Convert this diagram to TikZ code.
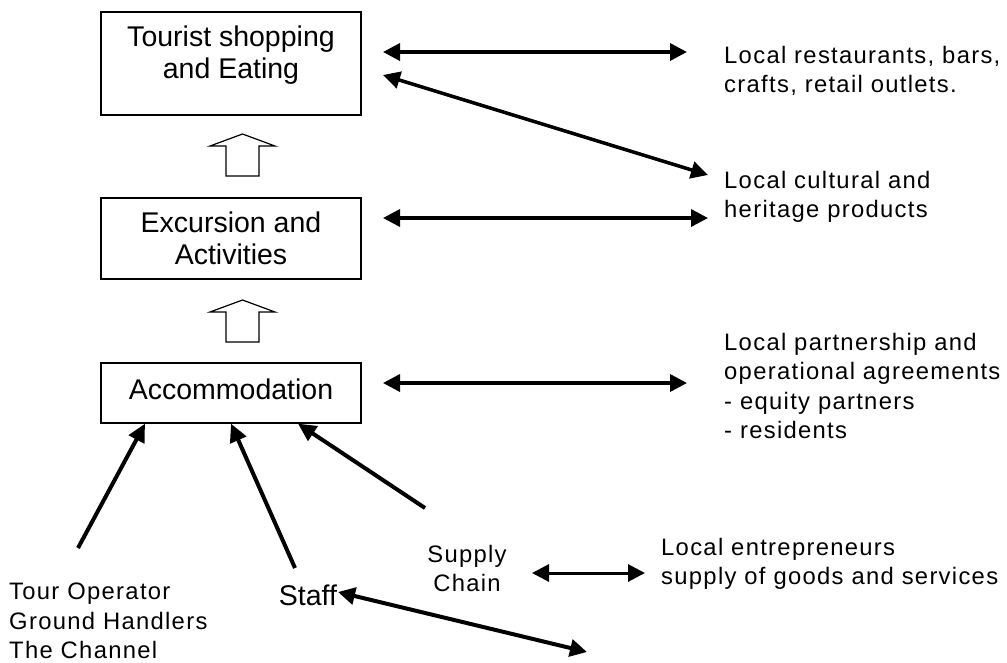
\documentclass[tikz,border=0pt]{standalone}
\usepackage{fontspec}
\setmainfont{Liberation Sans}
\newfontfamily\sidefont[LetterSpace=5.5]{Liberation Sans}
\usetikzlibrary{arrows.meta}
\begin{document}
\begin{tikzpicture}[x=1pt,y=-1pt,
  box/.style={draw, line width=1.3pt, inner sep=0pt, minimum width=260pt},
  boxtext/.style={font=\fontsize{28.5}{32}\selectfont, align=center, anchor=base, inner sep=0pt},
  side/.style={font=\sidefont\fontsize{23.8}{29.5}\selectfont, align=left, anchor=north west, inner sep=0pt},
  link/.style={line width=3.5pt, {Triangle[length=17pt,width=17pt]}-{Triangle[length=17pt,width=17pt]}},
  feed/.style={line width=4pt, -{Triangle[length=18pt,width=17pt]}},
  hollow/.style={draw, line width=1.2pt, fill=white, line join=miter}
]
\useasboundingbox (0,0) rectangle (1007,662);

% boxes
\node[box, minimum height=103pt] (b1) at (231,63.5) {};
\node[box, minimum height=81pt] (b2) at (231,238.5) {};
\node[box, minimum height=60pt] (b3) at (231,393) {};
\node[boxtext] (b1t) at (231,78) {Tourist shopping\\and Eating};
\node[boxtext] (b2t) at (231,264) {Excursion and\\Activities};
\node[boxtext] (b3t) at (231,399) {Accommodation};

% hollow up arrows
\draw[hollow] (226,176) -- (226,146) -- (210,146) -- (242.5,134) -- (275,146) -- (259,146) -- (259,176) -- cycle;
\draw[hollow] (226,342) -- (226,312) -- (210,312) -- (242.5,300) -- (275,312) -- (259,312) -- (259,342) -- cycle;

% side texts
\node[side] (t1) at (724,46) {Local restaurants, bars,\\crafts, retail outlets.};
\node[side] (t2) at (724,171) {Local cultural and\\heritage products};
\node[side] (t3) at (724,333) {Local partnership and\\operational agreements\\- equity partners\\- residents};
\node[side] (t4) at (661,538) {Local entrepreneurs\\supply of goods and services};
\node[side] (t5) at (9,583) {Tour Operator\\Ground Handlers\\The Channel};
\node[side, align=center, anchor=north] (t6) at (467,545) {Supply\\Chain};
\node[boxtext] (t7) at (308,605) {Staff};

% arrow end points
\coordinate (a1l) at (383,52);   \coordinate (a1r) at (687,52);
\coordinate (a2l) at (383,75);   \coordinate (a2r) at (708,175);
\coordinate (a3l) at (383,218);  \coordinate (a3r) at (708,218);
\coordinate (a4l) at (383,383);  \coordinate (a4r) at (687,383);
\coordinate (a5l) at (532,573);  \coordinate (a5r) at (645,573);
\coordinate (a6l) at (338,592);  \coordinate (a6r) at (587,652);
\coordinate (tourtail) at (78,548);
\coordinate (stafftail) at (295,568);
\coordinate (supplytail) at (425,508);

\draw[link] (a1l) -- (a1r);
\draw[link] (a2l) -- (a2r);
\draw[link] (a3l) -- (a3r);
\draw[link] (a4l) -- (a4r);
\draw[link, line width=3pt] (a5l) -- (a5r);
\draw[link, line width=4pt] (a6l) -- (a6r);

\draw[feed] (tourtail) -- ([xshift=-86pt]b3.south);
\draw[feed] (stafftail) -- (b3.south);
\draw[feed] (supplytail) -- ([xshift=67pt]b3.south);
\end{tikzpicture}
\end{document}
